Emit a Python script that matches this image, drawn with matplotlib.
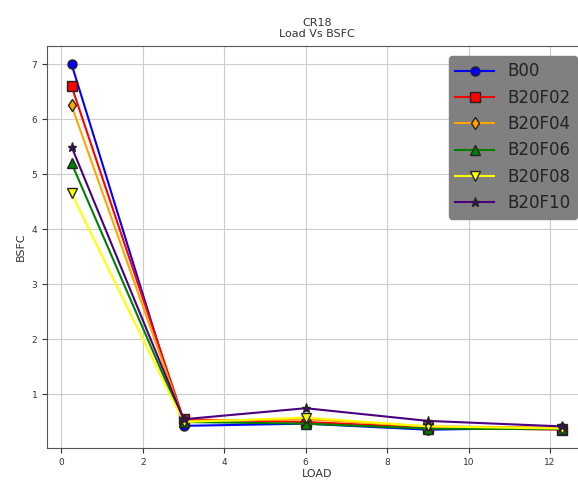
import numpy as np
import matplotlib
matplotlib.use("Agg")
import matplotlib.pyplot as plt

# load points and BSFC for each blend
load = [0.25, 3, 6, 9, 12.3]
b00 = [7.0, 0.43, 0.47, 0.36, 0.40]
b20f02 = [6.6, 0.55, 0.50, 0.40, 0.36]
b20f04 = [6.25, 0.52, 0.55, 0.42, 0.40]
b20f06 = [5.2, 0.50, 0.47, 0.38, 0.37]
b20f08 = [4.65, 0.50, 0.58, 0.42, 0.38]
b20f10 = [5.5, 0.55, 0.75, 0.52, 0.42]

labels = ["B00", "B20F02", "B20F04", "B20F06", "B20F08", "B20F10"]
series = [b00, b20f02, b20f04, b20f06, b20f08, b20f10]
colors = ["blue", "red", "orange", "green", "yellow", "indigo"]
markers = ["o", "s", "d", "^", "v", "*"]

fig = plt.figure(figsize=(5.78, 4.84), dpi=100)
ax = fig.add_axes([0.0813, 0.0744, 0.934, 0.831])

for y, lab, c, m in zip(series, labels, colors, markers):
    ax.plot(load, y, color=c, marker=m, markersize=6.5, markerfacecolor=c,
            markeredgecolor="#222222", linewidth=1.5, label=lab)

ax.grid(True, color="#cccccc", linewidth=0.8)
ax.set_title("CR18\nLoad Vs BSFC", fontsize=8, color="#333333")
ax.set_xlabel("LOAD", fontsize=8, color="#333333", labelpad=2)
ax.set_ylabel("BSFC", fontsize=8, color="#333333")
ax.tick_params(labelsize=6.5, colors="#333333")
for s in ax.spines.values():
    s.set_color("#555555")

leg = ax.legend(loc="upper right", fontsize=12, facecolor="#808080",
                framealpha=1, edgecolor="#808080", borderaxespad=0.6,
                labelspacing=0.5, handlelength=2.3)
for t in leg.get_texts():
    t.set_color("#222222")

fig.savefig("out.png", dpi=100)
